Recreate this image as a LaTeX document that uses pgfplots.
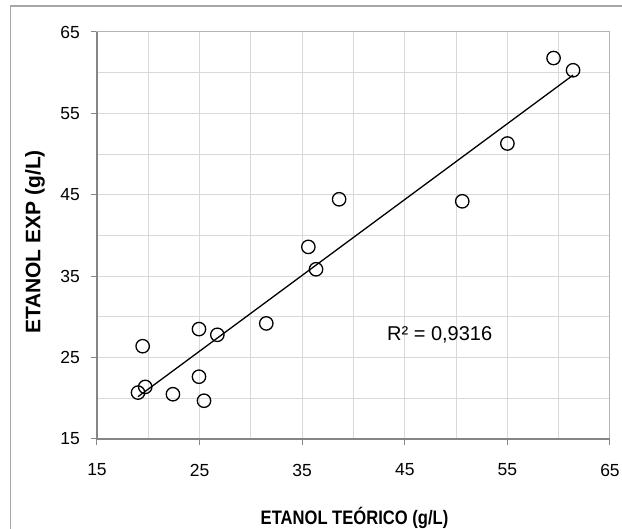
\documentclass[border=0pt]{standalone}
\usepackage{pgfplots}
\pgfplotsset{compat=1.18}
\usepackage{fontspec}
\setmainfont{Liberation Sans}
\newfontfamily\condfont[FakeStretch=0.85]{Liberation Sans}

\definecolor{gridgray}{HTML}{D9D9D9}
\definecolor{framegray}{HTML}{B3B3B3}
\definecolor{axisgray}{HTML}{868686}
\definecolor{bordergray}{HTML}{A6A6A6}

% Ethanol: theoretical vs. experimental (g/L)
\pgfplotstableread{
x      y
19.00  20.70
19.70  21.40
19.45  26.40
22.40  20.50
24.94  28.50
24.94  22.65
25.43  19.70
26.73  27.80
31.50  29.20
35.60  38.60
36.35  35.85
38.60  44.45
50.60  44.20
55.00  51.30
59.50  61.80
61.40  60.30
}\etanol

\begin{document}
\begin{tikzpicture}[x=1pt,y=1pt]
\useasboundingbox (0,0) rectangle (622,529);
% chart area border
\draw[bordergray, line width=1.2pt] (10.5,-5) -- (10.5,523) -- (630,523);
\begin{axis}[
  at={(97pt,90pt)}, anchor=south west,
  scale only axis, width=513pt, height=407pt,
  xmin=15, xmax=65, ymin=15, ymax=65,
  xtick={15,25,...,65}, ytick={15,25,...,65},
  minor xtick={20,30,...,60}, minor ytick={20,30,...,60},
  grid=both,
  major grid style={gridgray, line width=1pt},
  minor grid style={gridgray, line width=1pt},
  tick pos=left,
  tick align=outside,
  major tick length=6pt, minor tick length=0pt,
  tick style={axisgray, line width=1pt},
  axis line style={framegray, line width=1pt},
  /pgf/number format/assume math mode=true,
  ticklabel style={font=\fontsize{17.5}{20}\selectfont},
  xticklabel style={anchor=center, yshift=-25pt},
  yticklabel style={anchor=east, inner sep=0pt, xshift=-11pt},
  clip=false,
]
% darker left and bottom axis lines
\draw[axisgray, line width=1.2pt] (axis cs:15,65) -- (axis cs:15,15) -- (axis cs:65,15);
\addplot[black, line width=1.3pt] coordinates {(19.0,20.2) (61.4,59.7)};
\addplot[only marks, mark=o, mark size=6.7pt, mark options={black, line width=1.3pt}]
  table[x=x, y=y] {\etanol};
\node[font=\fontsize{20}{22}\selectfont] at (axis cs:48.4,27.8) {R² = 0,9316};
\end{axis}
\node[font=\condfont\bfseries\fontsize{19.5}{22}\selectfont] at (354.5,11) {ETANOL TEÓRICO (g/L)};
\node[rotate=90, font=\bfseries\fontsize{21}{24}\selectfont] at (35,287) {ETANOL EXP (g/L)};
\end{tikzpicture}
\end{document}
